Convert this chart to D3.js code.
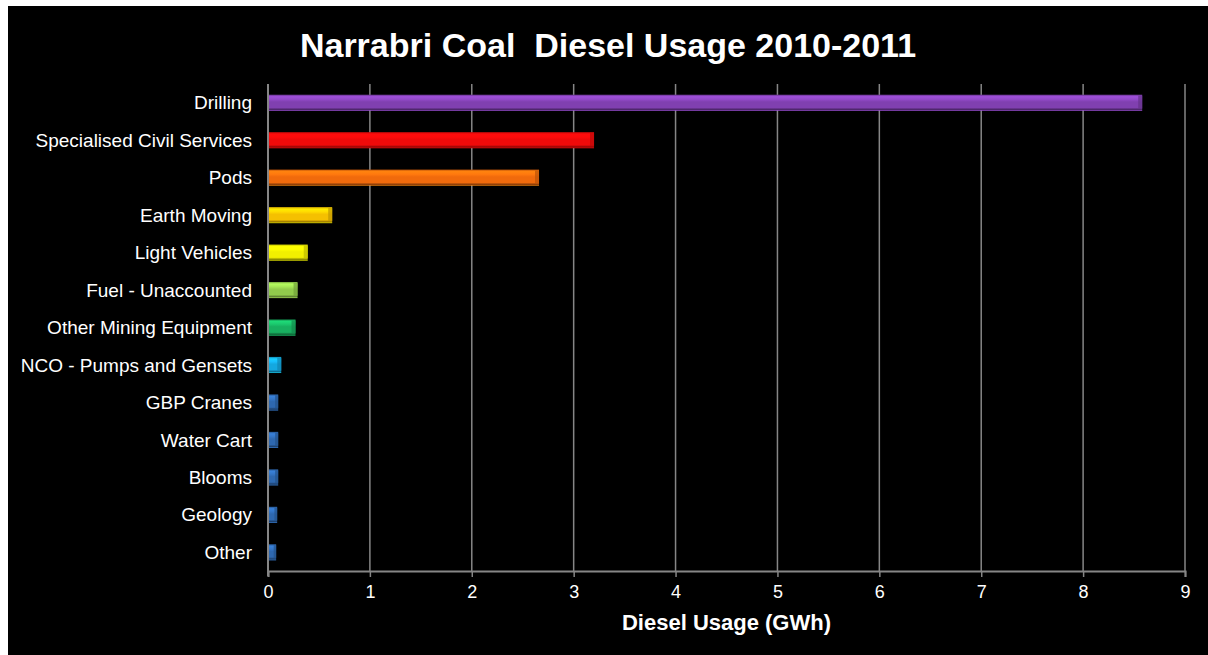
<!DOCTYPE html>
<html><head><meta charset="utf-8">
<script src="https://cdn.jsdelivr.net/npm/d3@7"></script>
<style>html,body{margin:0;padding:0;background:#fff;}svg{display:block;}</style>
</head><body>
<script>
const categories = ["Drilling","Specialised Civil Services","Pods","Earth Moving","Light Vehicles","Fuel - Unaccounted","Other Mining Equipment","NCO - Pumps and Gensets","GBP Cranes","Water Cart","Blooms","Geology","Other"];
const values = [8.58, 3.20, 2.66, 0.63, 0.39, 0.29, 0.27, 0.13, 0.10, 0.10, 0.10, 0.09, 0.08];
const barColors = ["#8040b0","#f00a0a","#f06a0c","#f5c000","#f2f000","#92cc4c","#18b060","#14a8e0","#2e68b0","#2e68b0","#2e68b0","#2e68b0","#2e68b0"];
const xTicks = [0,1,2,3,4,5,6,7,8,9];
const title = "Narrabri Coal  Diesel Usage 2010-2011";
const xTitle = "Diesel Usage (GWh)";

(function(){
const W = 1208, H = 655;
const FONT = "Arial, 'Liberation Sans', sans-serif";
const svg = d3.select("body").append("svg").attr("width", W).attr("height", H);
svg.append("rect").attr("x",8).attr("y",6).attr("width",W-8).attr("height",H-6).attr("fill","#000");

const pl = 268, pr = 1185, pt = 84, pb = 571;
const x = d3.scaleLinear().domain([0,9]).range([pl,pr]);
const y = d3.scaleBand().domain(categories).range([pt,pb]).paddingInner(0.57).paddingOuter(0.285);

const defs = svg.append("defs");
barColors.forEach((c,i)=>{
  const base = d3.color(c);
  const g = defs.append("linearGradient").attr("id","g"+i).attr("x1",0).attr("y1",0).attr("x2",0).attr("y2",1);
  g.append("stop").attr("offset","0%").attr("stop-color", base.darker(0.6));
  g.append("stop").attr("offset","12%").attr("stop-color", base.brighter(0.6));
  g.append("stop").attr("offset","30%").attr("stop-color", base.brighter(0.35));
  g.append("stop").attr("offset","45%").attr("stop-color", base);
  g.append("stop").attr("offset","80%").attr("stop-color", base);
  g.append("stop").attr("offset","88%").attr("stop-color", base.darker(0.9));
  g.append("stop").attr("offset","93%").attr("stop-color", base.darker(1.5));
  g.append("stop").attr("offset","100%").attr("stop-color", base.brighter(0.8));
});

svg.append("g").selectAll("line").data(xTicks.slice(1)).join("line")
  .attr("x1",d=>x(d)).attr("x2",d=>x(d)).attr("y1",pt).attr("y2",pb)
  .attr("stroke","#868686").attr("stroke-width",1.5);

svg.append("g").selectAll("rect").data(categories).join("rect")
  .attr("x", x(0)).attr("y", d=>y(d))
  .attr("width", (d,i)=>x(values[i])-x(0)).attr("height", y.bandwidth())
  .attr("fill", (d,i)=>"url(#g"+i+")");
svg.append("g").selectAll("rect").data(categories).join("rect")
  .attr("x", (d,i)=>x(values[i])-Math.min(4,(x(values[i])-x(0))*0.3)).attr("y", d=>y(d)+1)
  .attr("width", (d,i)=>Math.min(4,(x(values[i])-x(0))*0.3)).attr("height", y.bandwidth()*0.8)
  .attr("fill", (d,i)=>d3.color(barColors[i]).darker(0.7)).attr("opacity",0.7);

svg.append("line").attr("x1",x(0)).attr("x2",x(0)).attr("y1",pt).attr("y2",pb+5)
  .attr("stroke","#868686").attr("stroke-width",2);

const xAxis = svg.append("g").attr("transform",`translate(0,${pb})`)
  .call(d3.axisBottom(x).tickValues(xTicks).tickFormat(d3.format("d")).tickSize(6).tickPadding(8));
xAxis.select(".domain").attr("stroke","#868686").attr("stroke-width",2);
xAxis.selectAll(".tick line").attr("stroke","#868686").attr("stroke-width",1.5);
xAxis.selectAll(".tick text").attr("fill","#fff").attr("font-family",FONT).attr("font-size",18);

svg.append("g").selectAll("text").data(categories).join("text")
  .attr("x", 252).attr("y", d=>y(d)+y.bandwidth()/2).attr("dy","0.35em")
  .attr("text-anchor","end").attr("fill","#fff")
  .attr("font-family",FONT).attr("font-size",19)
  .text(d=>d);

svg.append("text").attr("x",608).attr("y",57).attr("text-anchor","middle").attr("fill","#fff")
  .attr("font-family",FONT).attr("font-weight","bold").attr("font-size",34)
  .style("white-space","pre").text(title);
svg.append("text").attr("x",(pl+pr)/2).attr("y",630).attr("text-anchor","middle").attr("fill","#fff")
  .attr("font-family",FONT).attr("font-weight","bold").attr("font-size",22)
  .text(xTitle);
})();
</script>
</body></html>
